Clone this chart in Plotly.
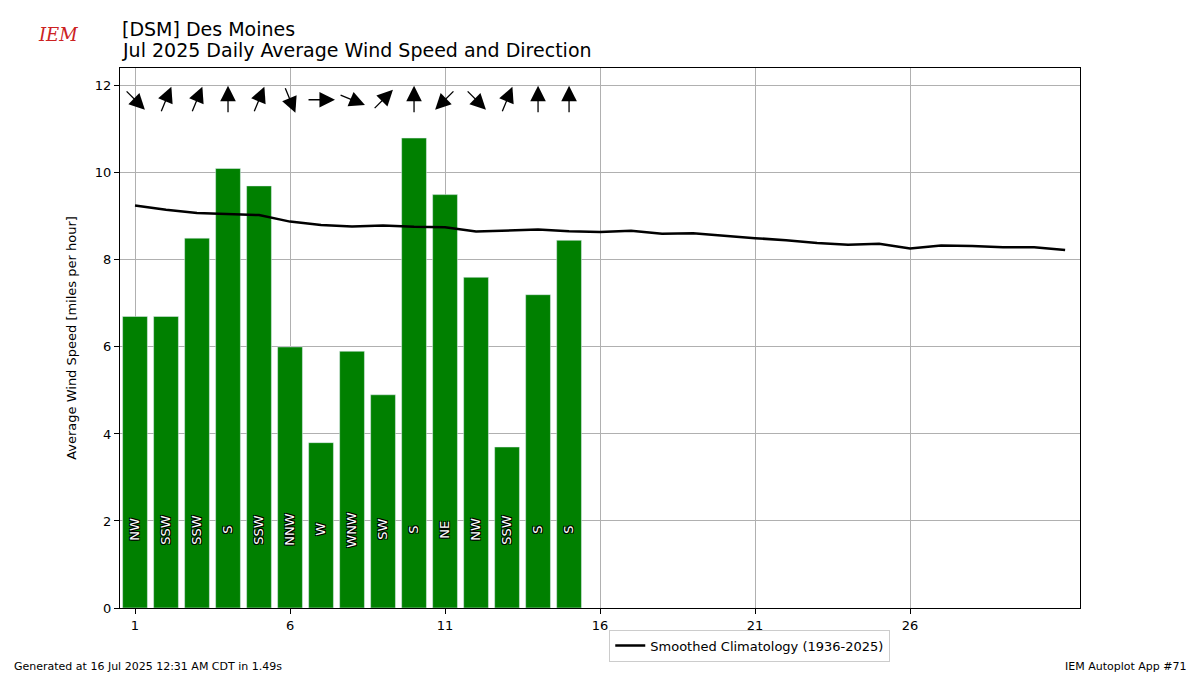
import math
import plotly.graph_objects as go

days = list(range(1, 16))
speed = [6.7, 6.7, 8.5, 10.1, 9.7, 6.0, 3.8, 5.9, 4.9, 10.8, 9.5, 7.6, 3.7, 7.2, 8.45]
dirs = ["NW", "SSW", "SSW", "S", "SSW", "NNW", "W", "WNW", "SW", "S", "NE", "NW", "SSW", "S", "S"]
clim_days = list(range(1, 32))
clim = [9.25, 9.15, 9.08, 9.05, 9.03, 8.88, 8.80, 8.77, 8.79, 8.76, 8.75, 8.65, 8.67, 8.70, 8.66,
        8.64, 8.67, 8.60, 8.61, 8.55, 8.50, 8.45, 8.39, 8.35, 8.37, 8.26, 8.33, 8.32, 8.29, 8.29, 8.23]
compass = ["N", "NNE", "NE", "ENE", "E", "ESE", "SE", "SSE", "S", "SSW", "SW", "WSW", "W", "WNW", "NW", "NNW"]

fig = go.Figure()
fig.add_trace(go.Bar(x=days, y=speed, marker_color="green", width=0.8, showlegend=False))
fig.add_trace(go.Scatter(x=clim_days, y=clim, mode="lines", line=dict(color="black", width=2.5),
                         name="Smoothed Climatology (1936-2025)"))

outline = "1px 1px 0 black, -1px -1px 0 black, 1px -1px 0 black, -1px 1px 0 black"
for d, lab in zip(days, dirs):
    fig.add_annotation(x=d, y=1.8, xref="x", yref="y", text=lab, textangle=-90, showarrow=False,
                       font=dict(color="white", size=13, shadow=outline))

# wind arrows (pointing where the wind blows to)
px_x, px_y, half = 31.0, 43.5, 14
for d, lab in zip(days, dirs):
    ang = math.radians(compass.index(lab) * 22.5 + 180)
    ux, uy = math.sin(ang), math.cos(ang)
    fig.add_annotation(x=d + half * ux / px_x, y=11.68 + half * uy / px_y, xref="x", yref="y",
                       ax=-2 * half * ux, ay=2 * half * uy, showarrow=True,
                       arrowhead=2, arrowsize=2.4, arrowwidth=1.3, arrowcolor="black", text="")

for i, t in enumerate(["[DSM] Des Moines", "Jul 2025 Daily Average Wind Speed and Direction"]):
    fig.add_annotation(text=t, xref="paper", yref="paper", x=0, y=1.072 - i * 0.039,
                       xanchor="left", yanchor="middle", showarrow=False, font=dict(size=19, color="black"))
fig.add_annotation(text="Generated at 16 Jul 2025 12:31 AM CDT in 1.49s", xref="paper", yref="paper",
                   x=-0.113, y=-0.124, xanchor="left", showarrow=False, font=dict(size=11))
fig.add_annotation(text="IEM Autoplot App #71", xref="paper", yref="paper",
                   x=1.114, y=-0.124, xanchor="right", showarrow=False, font=dict(size=11))
fig.add_annotation(text="<i>IEM</i>", xref="paper", yref="paper", x=-0.088, y=1.085,
                   showarrow=False, font=dict(size=18, color="#cc2222", family="DejaVu Serif"))

axis = dict(showline=True, linecolor="black", mirror=True, showgrid=True, gridcolor="#b0b0b0",
            ticks="outside", tickcolor="black", zeroline=False, tickfont=dict(size=13), automargin=False)
fig.update_xaxes(axis, range=[0.516, 31.48], tickvals=[1, 6, 11, 16, 21, 26])
fig.update_yaxes(axis, range=[0, 12.41], dtick=2, title=dict(text="Average Wind Speed [miles per hour]", font=dict(size=13)))
fig.update_layout(width=1200, height=675, margin=dict(l=112, r=128, t=60, b=75),
                  plot_bgcolor="white", paper_bgcolor="white",
                  font=dict(family="DejaVu Sans", color="black"),
                  legend=dict(x=0.656, y=-0.04, xanchor="center", yanchor="top",
                              bordercolor="#cccccc", borderwidth=1, font=dict(size=13)))
fig.write_html("out.html")
